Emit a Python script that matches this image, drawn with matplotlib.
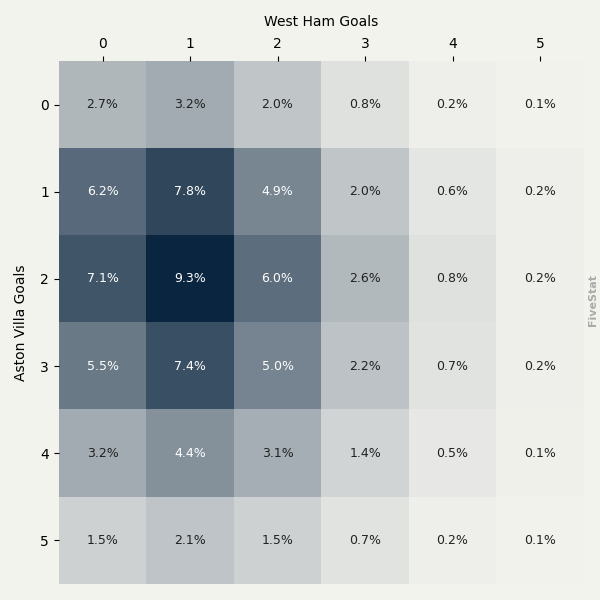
import numpy as np
import matplotlib
matplotlib.use("Agg")
import matplotlib.pyplot as plt
from matplotlib.colors import LinearSegmentedColormap

# scoreline probabilities (%), rows = Aston Villa goals, cols = West Ham goals
home_goals = [0, 1, 2, 3, 4, 5]
away_goals = [0, 1, 2, 3, 4, 5]
row0 = [2.7, 3.2, 2.0, 0.8, 0.2, 0.06]
row1 = [6.2, 7.8, 4.9, 2.0, 0.6, 0.2]
row2 = [7.1, 9.3, 6.0, 2.6, 0.8, 0.2]
row3 = [5.5, 7.4, 5.0, 2.2, 0.7, 0.2]
row4 = [3.2, 4.4, 3.1, 1.4, 0.5, 0.13]
row5 = [1.5, 2.1, 1.5, 0.7, 0.2, 0.05]

probs = np.array([row0, row1, row2, row3, row4, row5])

bg = '#f3f3ee'
cmap = LinearSegmentedColormap.from_list('fs', [bg, '#0a2540'])

fig = plt.figure(figsize=(6, 6), dpi=100, facecolor=bg)
ax = fig.add_axes([0.098, 0.027, 0.875, 0.871])
ax.set_facecolor(bg)

ax.imshow(probs, cmap=cmap, vmin=0, vmax=probs.max(), aspect='auto')

for i in range(probs.shape[0]):
    for j in range(probs.shape[1]):
        v = probs[i, j]
        col = 'white' if v > 4.0 else '#222222'
        ax.text(j, i, '%.1f%%' % v, ha='center', va='center', fontsize=9,
                color=col)

ax.set_xticks(range(len(away_goals)))
ax.set_xticklabels(away_goals, fontsize=10)
ax.set_yticks(range(len(home_goals)))
ax.set_yticklabels(home_goals, fontsize=10, rotation=0)
ax.xaxis.tick_top()
ax.xaxis.set_label_position('top')
ax.set_xlabel('West Ham Goals', fontsize=10, labelpad=8)
ax.set_ylabel('Aston Villa Goals', fontsize=10, labelpad=9)
for s in ax.spines.values():
    s.set_visible(False)

fig.text(0.988, 0.5, 'FiveStat', rotation=90, ha='center', va='center',
         fontsize=8, fontweight='bold', color='#aaaaaa')

fig.savefig('out.png', dpi=100, facecolor=bg)
